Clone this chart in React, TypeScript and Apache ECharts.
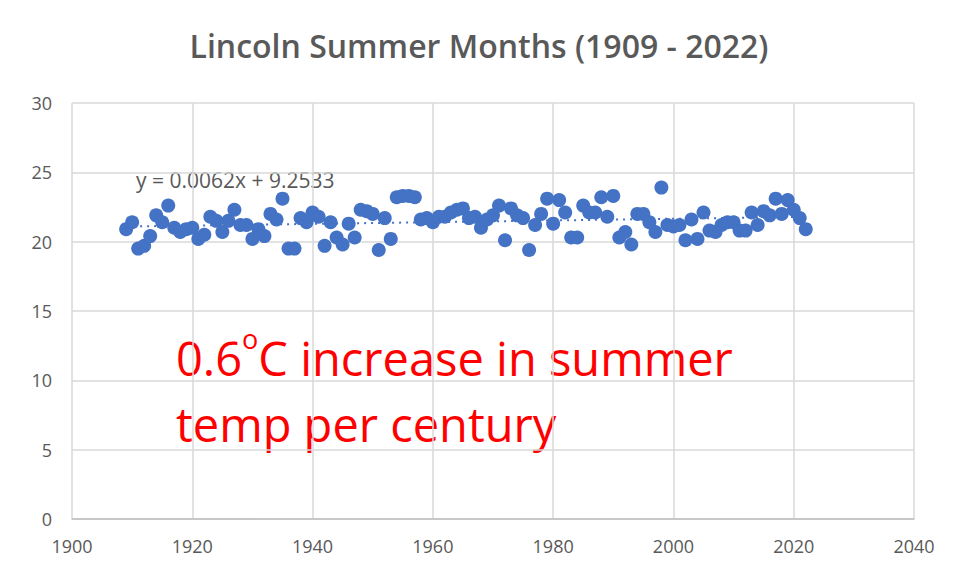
import React, { useEffect, useRef } from "react";
import * as echarts from "echarts";

const years: number[] = [];
for (let y = 1909; y <= 2022; y++) years.push(y);

const temps: number[] = [
  20.9, 21.4, 19.5, 19.7, 20.4, 21.9, 21.4, 22.6, 21.0, 20.7,
  20.9, 21.0, 20.2, 20.5, 21.8, 21.5, 20.7, 21.5, 22.3, 21.2,
  21.2, 20.2, 20.9, 20.4, 22.0, 21.6, 23.1, 19.5, 19.5, 21.7,
  21.4, 22.1, 21.8, 19.7, 21.4, 20.3, 19.8, 21.3, 20.3, 22.3,
  22.2, 22.0, 19.4, 21.7, 20.2, 23.2, 23.3, 23.3, 23.2, 21.6,
  21.7, 21.4, 21.8, 21.8, 22.1, 22.3, 22.4, 21.7, 21.8, 21.0,
  21.6, 21.9, 22.6, 20.1, 22.4, 21.9, 21.7, 19.4, 21.2, 22.0,
  23.1, 21.3, 23.0, 22.1, 20.3, 20.3, 22.6, 22.1, 22.1, 23.2,
  21.8, 23.3, 20.3, 20.7, 19.8, 22.0, 22.0, 21.4, 20.7, 23.9,
  21.2, 21.1, 21.2, 20.1, 21.6, 20.2, 22.1, 20.8, 20.7, 21.2,
  21.4, 21.4, 20.8, 20.8, 22.1, 21.2, 22.2, 21.9, 23.1, 22.0,
  23.0, 22.3, 21.7, 20.9,
];

const trendYears: number[] = [1909, 2022];
const trendValues: number[] = [21.09, 21.79];

const titleText = "Lincoln Summer Months (1909 - 2022)";
const equationText = "y = 0.0062x + 9.2533";

export default function App() {
  const ref = useRef<HTMLDivElement>(null);
  useEffect(() => {
    if (!ref.current) return;
    const chart = echarts.init(ref.current, null, { renderer: "svg" });
    const gray = "#595959";
    const font = "'Open Sans', 'Noto Sans', sans-serif";
    chart.setOption({
      animation: false,
      backgroundColor: "#ffffff",
      title: {
        text: titleText,
        left: "center",
        top: 24,
        textStyle: { fontFamily: font, fontSize: 32, fontWeight: 600, color: gray },
      },
      grid: { left: 72, right: 44, top: 103, bottom: 60 },
      xAxis: {
        type: "value",
        min: 1900,
        max: 2040,
        interval: 20,
        axisLine: { show: true, lineStyle: { color: "#bfbfbf", width: 1.5 } },
        axisTick: { show: false },
        axisLabel: { color: gray, fontSize: 18, fontFamily: font, margin: 18, formatter: (v: number) => String(v) },
        splitLine: { show: true, lineStyle: { color: "#d9d9d9", width: 1.5 } },
      },
      yAxis: {
        type: "value",
        min: 0,
        max: 30,
        interval: 5,
        axisLine: { show: false },
        axisTick: { show: false },
        axisLabel: { color: gray, fontSize: 18, fontFamily: font, margin: 20 },
        splitLine: { show: true, lineStyle: { color: "#d9d9d9", width: 1.5 } },
      },
      series: [
        {
          type: "line",
          data: trendYears.map((y, i) => [y, trendValues[i]]),
          symbol: "none",
          lineStyle: { color: "#4472c4", width: 2, type: [2, 5] },
          z: 1,
        },
        {
          type: "scatter",
          data: years.map((y, i) => [y, temps[i]]),
          symbolSize: 14,
          itemStyle: { color: "#4472c4", opacity: 1 },
          z: 2,
        },
      ],
      graphic: [
        {
          type: "text",
          left: 136,
          top: 169,
          style: { text: equationText, fill: gray, fontSize: 21, fontFamily: font },
        },
        {
          type: "text",
          left: 176,
          top: 325,
          style: {
            text: "{a|0.6}{s|o}{a|C increase in summer}\n{a|temp per century}",
            rich: {
              a: { fill: "#ff0000", fontSize: 47, fontFamily: font, lineHeight: 66 },
              s: { fill: "#ff0000", fontSize: 27, fontFamily: font, lineHeight: 38, verticalAlign: "top" },
            },
          },
        },
      ],
    });
    return () => chart.dispose();
  }, []);
  return (
    <div style={{ width: 942, height: 563, boxSizing: "border-box", border: "1px solid #d9d9d9", position: "relative" }}>
      <div ref={ref} style={{ position: "absolute", left: -9, top: -9, width: 958, height: 579 }} />
    </div>
  );
}
